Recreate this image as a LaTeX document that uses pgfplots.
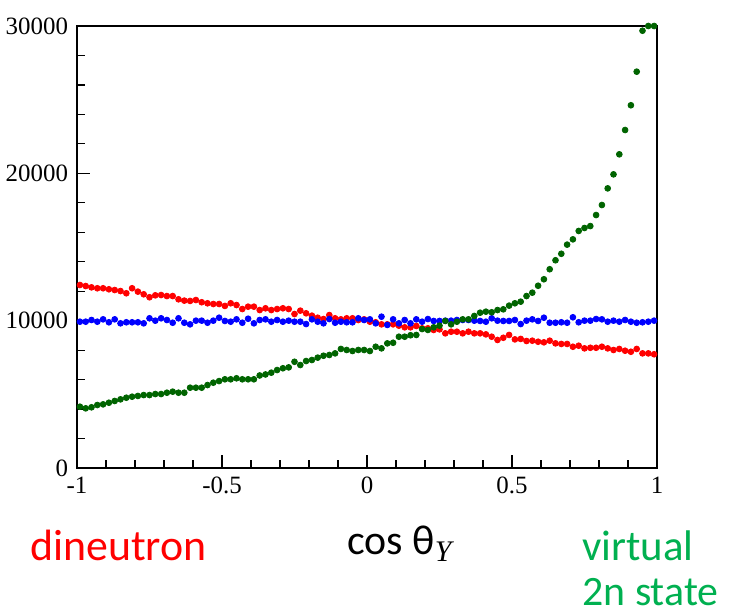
\documentclass[border=0pt]{standalone}
\usepackage{pgfplots}
\pgfplotsset{compat=1.18}
\usepackage{pgfplotstable}
\usepackage{fontspec}
\setmainfont{Liberation Serif}
\newfontfamily\carlito{Carlito}
\definecolor{dred}{RGB}{255,0,0}
\definecolor{dblue}{RGB}{0,0,255}
\definecolor{dgreen}{RGB}{0,100,0}
\definecolor{lgreen}{RGB}{0,176,80}
\pgfplotstableread{
x r b g
-0.99 12420 9930 4160
-0.97 12350 9930 4050
-0.95 12260 10045 4120
-0.93 12200 9930 4275
-0.91 12200 10090 4320
-0.89 12130 9890 4430
-0.87 12080 10090 4550
-0.85 12010 9820 4660
-0.83 11860 9890 4770
-0.81 12200 9890 4840
-0.79 11970 9890 4890
-0.77 11790 9820 4950
-0.75 11590 10160 4950
-0.73 11720 10000 5020
-0.71 11740 10160 5020
-0.69 11670 10045 5110
-0.67 11670 9860 5180
-0.65 11450 10160 5110
-0.63 11360 9860 5110
-0.61 11340 9750 5450
-0.59 11400 10000 5450
-0.57 11250 10000 5450
-0.55 11180 9860 5630
-0.53 11130 10000 5790
-0.51 11130 10200 5900
-0.49 11000 9980 6020
-0.47 11180 9930 6020
-0.45 11060 10090 6090
-0.43 10790 9860 6020
-0.41 10950 10130 6020
-0.39 10950 9820 6020
-0.37 10720 10045 6280
-0.35 10840 10090 6350
-0.33 10720 9930 6470
-0.31 10790 10045 6650
-0.29 10840 9930 6770
-0.27 10790 10000 6830
-0.25 10450 9930 7210
-0.23 10680 9930 6990
-0.21 10500 9770 7260
-0.19 10340 10090 7330
-0.17 10200 9930 7490
-0.15 10110 9820 7620
-0.13 10380 10110 7670
-0.11 10160 9860 7780
-0.09 10090 9930 8080
-0.07 10160 9890 8010
-0.05 10160 9890 7940
-0.03 10045 10160 8010
-0.01 10090 10045 8010
0.01 9930 10090 7940
0.03 9890 9820 8230
0.05 9750 10270 8120
0.07 9750 9710 8460
0.09 9750 10090 8500
0.11 9660 9820 8910
0.13 9550 10045 8910
0.15 9550 9820 9010
0.17 9640 10090 9030
0.19 9480 9930 9430
0.21 9480 10110 9370
0.23 9370 9980 9550
0.25 9410 9980 9660
0.27 9140 10000 9980
0.29 9250 10000 9750
0.31 9250 10045 9930
0.33 9140 10045 10090
0.35 9250 10045 10090
0.37 9140 10000 10320
0.39 9140 9980 10540
0.41 9070 9930 10610
0.43 8910 10160 10570
0.45 8690 10000 10720
0.47 8840 9980 10770
0.49 9030 9980 11020
0.51 8730 10045 11180
0.53 8760 9770 11290
0.55 8620 10000 11670
0.57 8640 10090 11900
0.59 8570 9980 12370
0.61 8530 10200 12810
0.63 8640 9860 13490
0.65 8460 9860 14100
0.67 8420 9890 14540
0.69 8420 9860 15160
0.71 8230 10230 15520
0.73 8300 9890 16090
0.75 8120 10000 16290
0.77 8160 10000 16420
0.79 8160 10110 17170
0.81 8230 10090 17850
0.83 8120 9930 18980
0.85 8010 10000 19930
0.87 8080 9930 21290
0.89 7960 10045 22940
0.91 7890 9930 24620
0.93 8080 9860 26900
0.95 7780 9890 29680
0.97 7780 9930 30000
0.99 7720 10000 30000
}\datatable
\begin{document}
\begin{tikzpicture}
\useasboundingbox (-38.5bp,-74bp) rectangle (326bp,234bp);
\begin{axis}[
  scale only axis,
  width=290bp, height=221bp,
  xmin=-1, xmax=1, ymin=0, ymax=30000,
  axis line style={line width=1.2pt},
  xtick={-1,-0.5,0,0.5,1},
  xticklabels={-1,-0.5,0,0.5,1},
  ytick={0,10000,20000,30000},
  yticklabels={0,10000,20000,30000},
  scaled y ticks=false,
  minor x tick num=4,
  minor y tick num=4,
  tick pos=left,
  tick align=inside,
  major tick length=6.5bp,
  minor tick length=4bp,
  every tick/.style={black, line width=0.6pt},
  tick label style={font=\fontsize{12.5}{14}\selectfont},
  /pgf/number format/assume math mode=true,
  xticklabel style={yshift=-1bp},
  yticklabel style={xshift=-1bp},
  clip=false,
]
\addplot[only marks, mark=*, mark size=1.45bp, color=dred] table[x=x,y=r]{\datatable};
\addplot[only marks, mark=*, mark size=1.45bp, color=dblue] table[x=x,y=b]{\datatable};
\addplot[only marks, mark=*, mark size=1.45bp, color=dgreen] table[x=x,y=g]{\datatable};
\end{axis}
\node[anchor=base west, inner sep=0pt, text=dred, font=\carlito\fontsize{22}{26}\selectfont] at (-23.5bp,-46bp) {dineutron};
\node[anchor=base west, inner sep=0pt, font=\carlito\fontsize{21}{25}\selectfont] at (135bp,-43bp) {cos θ\raisebox{-0.4ex}{\fontsize{15}{17}\selectfont\rmfamily\itshape Y}};
\node[anchor=base west, inner sep=0pt, text=lgreen, font=\carlito\fontsize{21.5}{26}\selectfont] at (252.5bp,-46bp) {virtual};
\node[anchor=base west, inner sep=0pt, text=lgreen, font=\carlito\fontsize{21}{26}\selectfont] at (252.5bp,-68.5bp) {2n state};
\end{tikzpicture}
\end{document}
